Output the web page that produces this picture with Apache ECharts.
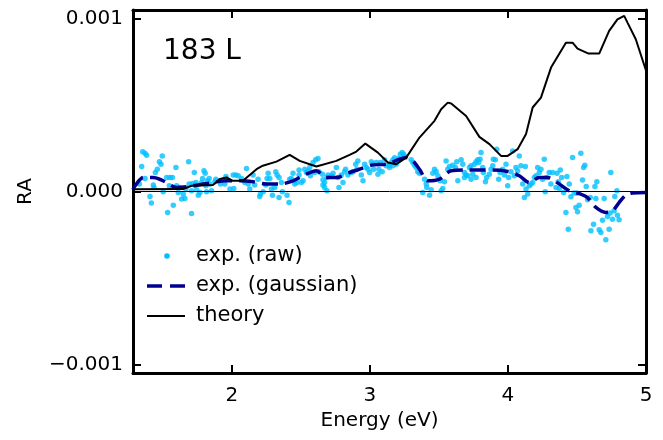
<!DOCTYPE html>
<html>
<head>
<meta charset="utf-8">
<script src="https://cdn.jsdelivr.net/npm/echarts@6/dist/echarts.min.js"></script>
<style>html,body{margin:0;padding:0;background:#fff}#c{width:663px;height:440px}</style>
</head>
<body>
<div id="c"></div>
<script>
// ---- data (Energy in eV, RA) ----
const xMin = 1.284, xMax = 5.0;
const yMin = -0.00105, yMax = 0.00105;
const xTicks = [2, 3, 4, 5];
const yTicks = [-0.001, 0, 0.001];
const panelLabel = '183 L';
const legendNames = ['exp. (raw)', 'exp. (gaussian)', 'theory'];

const theory = [
  [1.284,1.3e-5],[1.646,1.4e-5],[1.709,3.3e-5],[1.863,3.7e-5],[1.913,7.2e-5],[1.962,8.1e-5],
  [2.007,6.2e-5],[2.080,6.2e-5],[2.179,1.29e-4],[2.224,1.49e-4],[2.323,1.73e-4],[2.419,2.12e-4],
  [2.492,1.77e-4],[2.612,1.45e-4],[2.757,1.77e-4],[2.853,2.12e-4],[2.902,2.31e-4],[2.967,2.77e-4],
  [3.058,2.25e-4],[3.130,1.68e-4],[3.191,1.58e-4],[3.263,1.96e-4],[3.359,3.12e-4],[3.468,4.09e-4],
  [3.516,4.76e-4],[3.564,5.14e-4],[3.589,5.09e-4],[3.697,4.37e-4],[3.793,3.16e-4],[3.866,2.74e-4],
  [3.950,2.06e-4],[3.998,2.06e-4],[4.070,2.45e-4],[4.131,3.32e-4],[4.179,4.86e-4],[4.239,5.43e-4],
  [4.312,7.17e-4],[4.420,8.61e-4],[4.468,8.61e-4],[4.504,8.27e-4],[4.584,7.98e-4],[4.661,7.98e-4],
  [4.733,9.29e-4],[4.793,9.96e-4],[4.842,1.016e-3],[4.866,9.77e-4],[4.926,8.81e-4],[5.000,7.0e-4]
];

const gaussian = [
  [1.284,1.0e-5],[1.299,3.3e-5],[1.359,8.1e-5],[1.431,8.1e-5],[1.503,6.2e-5],[1.600,2.3e-5],[1.672,2.7e-5],
  [1.817,4.6e-5],[1.962,6.2e-5],[2.058,6.2e-5],[2.154,5.6e-5],[2.251,4.3e-5],[2.347,4.3e-5],
  [2.443,6.2e-5],[2.540,1.01e-4],[2.612,1.20e-4],[2.685,8.1e-5],[2.757,8.1e-5],[2.853,1.10e-4],
  [2.926,1.29e-4],[3.022,1.54e-4],[3.119,1.58e-4],[3.215,1.87e-4],[3.263,1.96e-4],[3.311,1.77e-4],
  [3.359,1.29e-4],[3.419,6.2e-5],[3.504,7.2e-5],[3.589,1.20e-4],[3.697,1.24e-4],[3.793,1.24e-4],
  [3.889,1.24e-4],[3.998,1.16e-4],[4.082,9.1e-5],[4.155,5.2e-5],[4.227,8.1e-5],[4.287,8.1e-5],
  [4.372,4.3e-5],[4.444,4.0e-6],[4.516,-1.2e-5],[4.576,-3.5e-5],[4.637,-9.2e-5],[4.709,-1.21e-4],
  [4.757,-1.12e-4],[4.805,-6.4e-5],[4.854,-2.1e-5],[4.902,-9.0e-6],[5.000,-6.0e-6]
];

const raw = [
  [1.354,2.30e-4],[1.371,2.22e-4],[1.383,2.10e-4],[1.347,1.45e-4],[1.496,2.06e-4],[1.475,1.72e-4],
  [1.487,1.58e-4],[1.460,1.29e-4],[1.446,1.10e-4],[1.371,7.5e-5],[1.330,4.3e-5],[1.431,3.7e-5],
  [1.436,2.3e-5],[1.528,8.1e-5],[1.552,8.1e-5],[1.569,8.1e-5],[1.595,1.39e-4],[1.687,1.72e-4],
  [1.728,1.10e-4],[1.798,1.20e-4],[1.807,1.06e-4],[1.788,7.5e-5],[1.836,7.5e-5],[1.822,6.2e-5],
  [1.884,7.1e-5],[1.908,6.2e-5],[1.957,8.7e-5],[2.010,9.5e-5],[2.029,9.5e-5],[2.046,9.1e-5],
  [1.547,3.3e-5],[1.624,2.3e-5],[1.612,-6e-6],[1.648,-1.5e-5],[1.660,-4.0e-5],[1.636,-4.4e-5],
  [1.667,1.4e-5],[1.716,4.6e-5],[1.740,5.2e-5],[1.781,5.2e-5],[1.812,3.3e-5],[1.841,4.3e-5],
  [1.853,4e-6],[1.769,-6e-6],[1.757,-2.1e-5],[1.745,1.0e-5],[1.708,4e-6],[1.503,-2e-6],
  [1.407,-2.9e-5],[1.417,-6.7e-5],[1.535,-1.21e-4],[1.576,-7.9e-5],[1.708,-1.27e-4],[1.817,-2e-6],
  [1.877,5.6e-5],[1.918,4.3e-5],[1.986,1.4e-5],[2.014,1.8e-5],[1.949,4.3e-5],[1.733,3.7e-5],
  [1.691,4.3e-5],[1.600,3.3e-5],
  [2.106,1.33e-4],[2.070,7.5e-5],[2.094,5.2e-5],[2.118,4.3e-5],[2.130,1.4e-5],[2.166,3.7e-5],
  [2.154,9.5e-5],[2.190,7.1e-5],[2.207,-1.5e-5],[2.202,-2.9e-5],[2.227,-2e-6],[2.246,3.7e-5],
  [2.263,1.06e-4],[2.255,7.5e-5],[2.275,7.5e-5],[2.287,1.4e-5],[2.294,-2.1e-5],[2.311,2.3e-5],
  [2.318,1.14e-4],[2.328,9.5e-5],[2.342,8.1e-5],[2.359,5.2e-5],[2.342,-3.4e-5],[2.366,-2e-6],
  [2.400,-2.1e-5],[2.414,-6.3e-5],[2.419,7.1e-5],[2.431,7.5e-5],[2.443,1.06e-4],[2.456,4.3e-5],
  [2.472,5.2e-5],[2.487,9.5e-5],[2.487,1.24e-4],[2.504,5.2e-5],[2.516,6.2e-5],[2.528,1.29e-4],
  [2.540,1.10e-4],[2.552,1.20e-4],[2.564,1.39e-4],[2.588,1.68e-4],[2.607,1.83e-4],[2.624,1.91e-4],
  [2.569,9.1e-5],[2.600,1.10e-4],[2.631,1.14e-4],[2.656,1.00e-4],[2.660,6.8e-5],[2.672,5.2e-5],
  [2.689,8.1e-5],[2.689,4e-6],[2.697,9.5e-5],[2.721,9.1e-5],[2.733,1.06e-4],[2.757,1.39e-4],
  [2.769,8.1e-5],[2.776,2.3e-5],[2.805,5.2e-5],[2.817,1.14e-4],[2.824,1.29e-4],[2.841,9.5e-5],
  [2.793,9.5e-5],[2.672,2.3e-5],[2.660,3.7e-5],
  [2.877,1.14e-4],[2.897,1.58e-4],[2.913,1.77e-4],[2.906,1.29e-4],[2.938,9.5e-5],[2.950,6.2e-5],
  [2.962,1.58e-4],[2.974,1.39e-4],[2.986,1.29e-4],[2.998,1.10e-4],[3.010,1.72e-4],[3.022,1.58e-4],
  [3.027,1.29e-4],[3.046,1.68e-4],[3.058,1.00e-4],[3.065,1.29e-4],[3.075,1.68e-4],[3.089,1.14e-4],
  [3.106,1.83e-4],[3.118,1.49e-4],[3.142,1.52e-4],[3.155,1.68e-4],[3.167,1.83e-4],[3.179,1.95e-4],
  [3.191,1.58e-4],[3.203,1.77e-4],[3.210,1.91e-4],[3.220,2.16e-4],[3.234,2.26e-4],[3.244,2.16e-4],
  [3.251,2.03e-4],[3.167,1.49e-4],[3.142,1.39e-4],[3.299,1.83e-4],[3.311,1.68e-4],[3.323,1.52e-4],
  [3.335,1.39e-4],[3.347,1.14e-4],[3.359,1.06e-4],[3.396,7.1e-5],[3.408,4.3e-5],[3.412,2.3e-5],
  [3.383,-6e-6],[3.432,-2.1e-5],[3.444,1.0e-5],[3.456,1.06e-4],[3.468,1.29e-4],[3.480,1.14e-4],
  [3.492,9.1e-5],[3.509,6.2e-5],[3.516,4e-6],[3.528,1.8e-5],[3.540,5.6e-5],[3.552,1.77e-4],
  [3.564,1.29e-4],[3.576,1.45e-4],[3.600,1.52e-4],[3.620,1.39e-4],[3.629,1.72e-4],[3.637,6.2e-5],
  [2.865,1.10e-4],
  [3.661,1.83e-4],[3.673,1.58e-4],[3.685,1.10e-4],[3.697,9.5e-5],[3.709,9.1e-5],[3.721,1.39e-4],
  [3.733,1.49e-4],[3.745,1.00e-4],[3.757,1.58e-4],[3.769,1.72e-4],[3.781,1.83e-4],[3.788,1.68e-4],
  [3.798,1.87e-4],[3.805,2.26e-4],[3.817,1.39e-4],[3.822,1.10e-4],[3.837,5.6e-5],[3.846,8.1e-5],
  [3.865,1.00e-4],[3.878,1.29e-4],[3.890,1.49e-4],[3.894,1.87e-4],[3.909,1.83e-4],[3.919,2.45e-4],
  [3.933,7.1e-5],[3.943,1.10e-4],[3.962,1.29e-4],[3.974,9.5e-5],[3.986,1.58e-4],[3.998,3.3e-5],
  [4.005,8.1e-5],[4.022,1.14e-4],[4.034,2.35e-4],[4.046,9.1e-5],[4.058,1.39e-4],[4.070,1.20e-4],
  [4.082,2.06e-4],[4.094,1.49e-4],[4.107,4.3e-5],[4.119,-3.4e-5],[4.126,1.45e-4],[4.131,1.4e-5],
  [4.143,-1.5e-5],[4.155,3.3e-5],[4.167,4.3e-5],[4.179,5.2e-5],[4.191,8.1e-5],[4.203,9.1e-5],
  [4.215,1.39e-4],[4.227,1.10e-4],[4.239,1.29e-4],[4.251,7.1e-5],[4.263,1.87e-4],[4.270,-2e-6],
  [4.280,8.1e-5],[4.299,1.10e-4],[4.311,4.3e-5],[4.323,1.10e-4],[3.685,8.1e-5],[3.769,8.1e-5],
  [3.733,7.1e-5],
  [4.468,1.97e-4],[4.528,2.22e-4],[4.548,1.39e-4],[4.557,1.52e-4],[4.379,1.25e-4],[4.355,1.06e-4],
  [4.389,8.1e-5],[4.364,5.6e-5],[4.427,8.7e-5],[4.444,4.3e-5],[4.348,2.3e-5],[4.372,1.8e-5],
  [4.403,-6e-6],[4.456,-3.1e-5],[4.480,-9e-6],[4.499,-9e-6],[4.540,6.6e-5],[4.567,2.9e-5],
  [4.577,-4.8e-5],[4.596,-3.4e-5],[4.630,2.9e-5],[4.644,5.6e-5],[4.637,-4.0e-5],[4.697,-4.0e-5],
  [4.745,1.10e-4],[4.789,4e-6],[4.774,-2.9e-5],[4.516,-7.9e-5],[4.492,-9.2e-5],[4.504,-1.17e-4],
  [4.420,-1.21e-4],[4.437,-2.18e-4],[4.620,-1.89e-4],[4.601,-2.27e-4],[4.661,-2.21e-4],[4.673,-2.37e-4],
  [4.685,-1.66e-4],[4.721,-1.44e-4],[4.733,-2.18e-4],[4.709,-2.79e-4],[4.740,-1.25e-4],[4.757,-1.60e-4],
  [4.769,-1.12e-4],[4.793,-1.37e-4],[4.805,-1.64e-4]
];

// ---- styles ----
const FONT = 'DejaVu Sans';
const RAW_COLOR = '#00bfff';
const GAUSS_COLOR = '#000090';

const chart = echarts.init(document.getElementById('c'), null, {renderer: 'canvas'});

const frameLine = {show: true, onZero: false, lineStyle: {color: '#000', width: 3}};
const tickStyle = {show: true, inside: true, length: 8, lineStyle: {color: '#000', width: 2}};

function xAxisDef(pos, showLabels) {
  return {
    type: 'value', position: pos, min: xMin, max: xMax,
    axisLine: frameLine,
    axisTick: Object.assign({customValues: xTicks}, tickStyle),
    axisLabel: {show: showLabels, customValues: xTicks, margin: 13,
      fontFamily: FONT, fontSize: 20, color: '#000'},
    splitLine: {show: false},
    name: showLabels ? 'Energy (eV)' : '', nameLocation: 'middle', nameGap: 37,
    nameTextStyle: {fontFamily: FONT, fontSize: 20, color: '#000', padding: [0, 20, 0, 0]}
  };
}
function yAxisDef(pos, showLabels) {
  return {
    type: 'value', position: pos, min: yMin, max: yMax,
    axisLine: frameLine,
    axisTick: Object.assign({customValues: yTicks}, tickStyle),
    axisLabel: {show: showLabels, customValues: yTicks, margin: 10,
      fontFamily: FONT, fontSize: 20, color: '#000',
      formatter: v => (v < 0 ? '\u2212' : '') + Math.abs(v).toFixed(3)},
    splitLine: {show: false},
    name: showLabels ? 'RA' : '', nameLocation: 'middle', nameGap: 97, nameRotate: 90,
    nameTextStyle: {fontFamily: FONT, fontSize: 20, color: '#000'}
  };
}

chart.setOption({
  backgroundColor: '#fff',
  animation: false,
  grid: {left: 133, right: 17, top: 10, bottom: 67},
  xAxis: [xAxisDef('bottom', true), xAxisDef('top', false)],
  yAxis: [yAxisDef('left', true), yAxisDef('right', false)],
  series: [
    {
      name: legendNames[0], type: 'scatter', data: raw,
      symbol: 'circle', symbolSize: 5.5,
      itemStyle: {color: RAW_COLOR}, z: 2,
      markLine: {
        silent: true, symbol: 'none', label: {show: false},
        lineStyle: {color: '#000', width: 1, type: 'solid'},
        data: [{yAxis: 0}], z: 3
      }
    },
    {
      name: legendNames[1], type: 'line', data: gaussian,
      showSymbol: false, symbol: 'none', smooth: 0.3,
      lineStyle: {color: GAUSS_COLOR, width: 3.5, type: [16, 7]}, z: 4
    },
    {
      name: legendNames[2], type: 'line', data: theory,
      showSymbol: false, symbol: 'none',
      lineStyle: {color: '#000', width: 2}, z: 5
    }
  ],
  graphic: [
    {type: 'text', left: 163, top: 38, style: {text: panelLabel, font: '28px "DejaVu Sans"', fill: '#000'}},
    {type: 'circle', shape: {cx: 167, cy: 256, r: 2.8}, style: {fill: RAW_COLOR}},
    {type: 'text', x: 196, y: 256, style: {text: legendNames[0], font: '21px "DejaVu Sans"', fill: '#000', verticalAlign: 'middle'}},
    {type: 'line', shape: {x1: 147, y1: 286, x2: 185, y2: 286}, style: {stroke: GAUSS_COLOR, lineWidth: 3.5, lineDash: [15, 8]}},
    {type: 'text', x: 196, y: 286, style: {text: legendNames[1], font: '21px "DejaVu Sans"', fill: '#000', verticalAlign: 'middle'}},
    {type: 'line', shape: {x1: 147, y1: 316, x2: 185, y2: 316}, style: {stroke: '#000', lineWidth: 2}},
    {type: 'text', x: 196, y: 316, style: {text: legendNames[2], font: '21px "DejaVu Sans"', fill: '#000', verticalAlign: 'middle'}}
  ]
});
</script>
</body>
</html>
